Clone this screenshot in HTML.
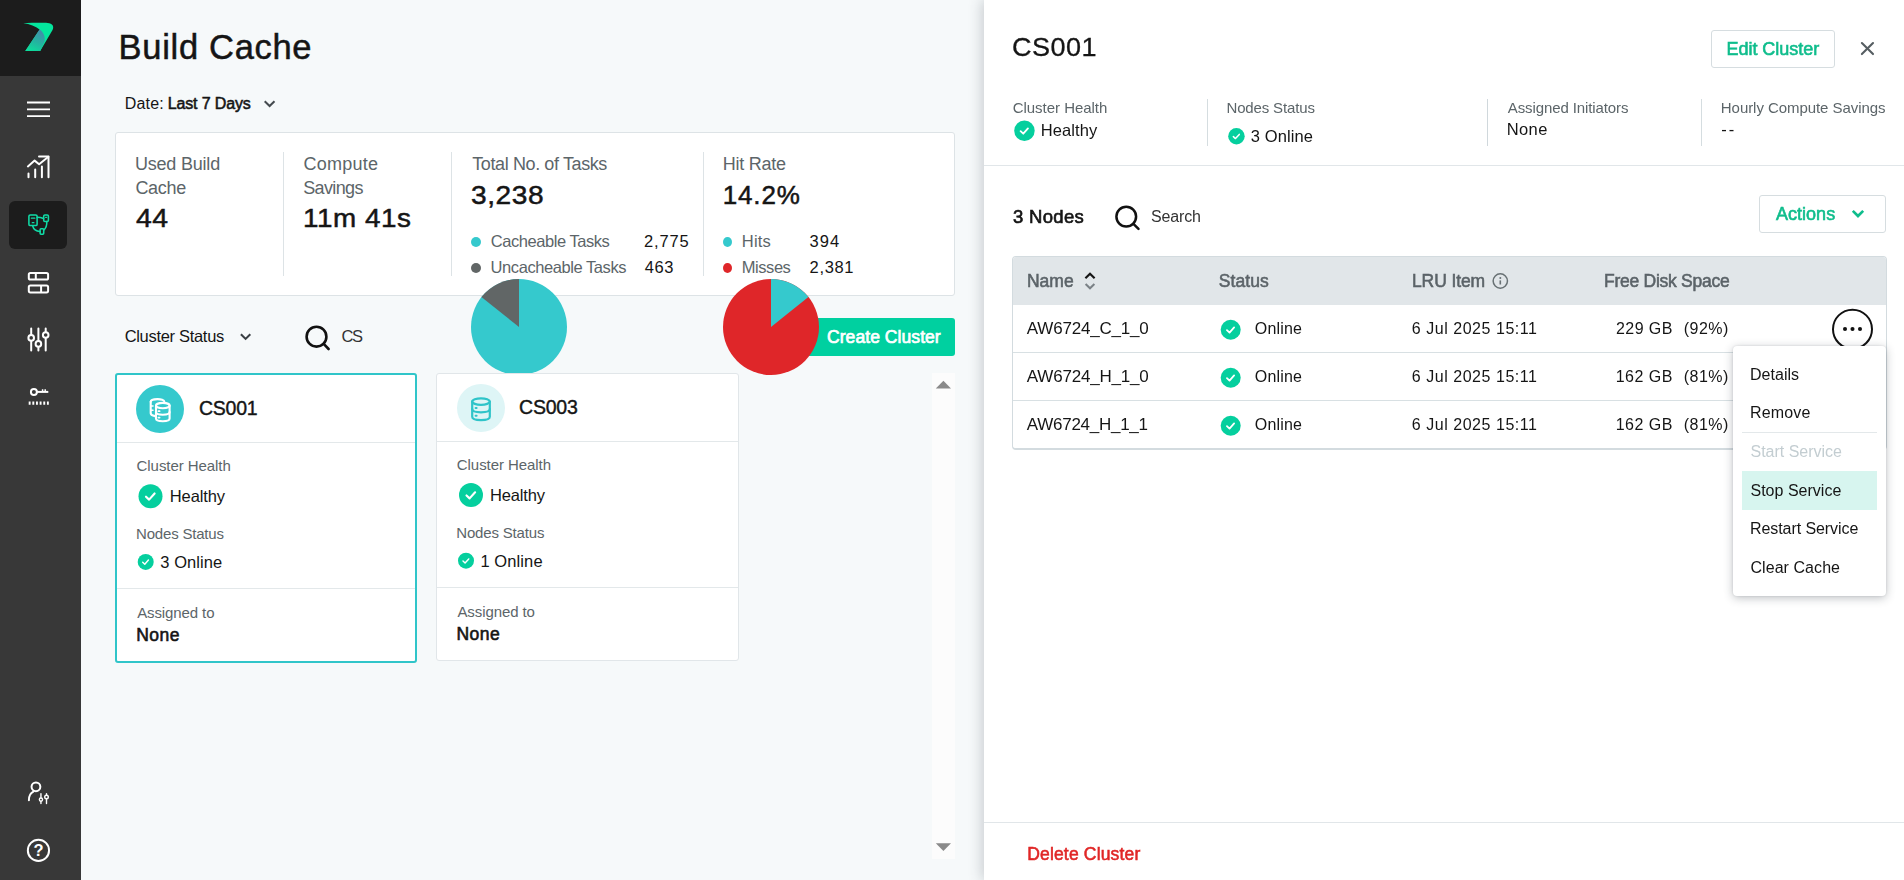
<!DOCTYPE html>
<html lang="en">
<head>
<meta charset="utf-8">
<title>Build Cache</title>
<style>
*{box-sizing:border-box;margin:0;padding:0}
html,body{width:1904px;height:880px;overflow:hidden}
body{position:relative;background:#f6f9fa;font-family:"Liberation Sans",sans-serif;color:#151515;font-size:16px}
.a{position:absolute}
.t{position:absolute;white-space:nowrap;line-height:1}
.g{color:#5c6569}
.b{font-weight:bold}
svg{position:absolute;overflow:visible}
/* sidebar */
#side{left:0;top:0;width:81px;height:880px;background:#383838}
#logo{left:0;top:0;width:81px;height:76px;background:#1c1c1c}
#active{left:9px;top:201px;width:58px;height:48px;background:#1c1c1c;border-radius:6px}
/* stats card */
#stats{left:115px;top:132px;width:840px;height:164px;background:#fff;border:1px solid #dde3e6;border-radius:3px}
.vsep{position:absolute;width:1px;background:#dde3e6}
.dot{position:absolute;width:10px;height:10px;border-radius:50%}
/* cards */
.card{position:absolute;background:#fff;border:1px solid #e1e6e9;border-radius:3px}
.hl{position:absolute;height:1px;background:#e3e8ea}
/* panel */
#panel{left:984px;top:0;width:920px;height:880px;background:#fff;box-shadow:-2px 0 13px rgba(50,60,70,.24)}
.btn{position:absolute;border:1px solid #d6dde0;border-radius:3px;background:#fff}
.gr{color:#0fbd8c}
</style>
</head>
<body>

<!-- ============ SIDEBAR ============ -->
<div id="side" class="a"></div>
<div id="logo" class="a"></div>
<div id="active" class="a"></div>

<svg style="left:0;top:0" width="81" height="880" viewBox="0 0 81 880" fill="none">
<defs><linearGradient id="lg" x1="0.7" y1="0" x2="0.3" y2="1"><stop offset="0" stop-color="#4689ab"/><stop offset="0.55" stop-color="#24b3a0"/><stop offset="1" stop-color="#0ddc9b"/></linearGradient></defs>
<!-- logo -->
<path d="M23.2 23.2 C31 22.8 42 22.7 47.6 22.9 C52.6 23.1 54.5 26.6 52.4 30.2 L40.2 50.9 L25.3 50.9 L39.6 29.4 C35.5 26 30 24.1 23.2 23.2Z" fill="#04e69d"/>
<path d="M39.6 29.4 C43.3 32.2 45.6 36.4 44.5 41.6 L40.2 50.9 L25.3 50.9Z" fill="url(#lg)"/>
<!-- hamburger -->
<path d="M27 102.5H50M27 109.3H50M27 116.2H50" stroke="#fff" stroke-width="1.8"/>
<!-- chart -->
<g stroke="#fff" stroke-width="2" stroke-linecap="round" stroke-linejoin="round">
<path d="M27.9 166.4L34.6 160.6L39.1 164.2L48.4 156.8"/>
<path d="M39 156.5H48.5V177.2"/>
<path d="M28.5 173.6V177.2M35.2 169.6V177.2M41.9 166.6V177.2"/>
</g>
<!-- build cache (active) -->
<g stroke="#10dba6" stroke-width="1.55" stroke-linejoin="round" stroke-linecap="round">
<rect x="28.9" y="214.9" width="8.2" height="10.7" rx="1.4"/>
<path d="M31.4 218.2H34.8M32.3 222.7H33.9" stroke-width="1.3"/>
<rect x="43.7" y="214.9" width="4.7" height="6.6" rx="1.2"/>
<path d="M45.6 217.3H46.6" stroke-width="1.3"/>
<rect x="40.1" y="228.8" width="3.6" height="5.4" rx="0.9"/>
<path d="M37.1 217.2C39.4 217.2 41.4 217.6 43.6 218.5"/>
<path d="M46.8 221.6C47 225.4 46 228 43.9 229.9"/>
<path d="M32.6 225.7C33.5 229.2 36.4 231.3 40 231.6"/>
</g>
<!-- layout -->
<g stroke="#fff" stroke-width="2">
<rect x="28.8" y="273" width="19.3" height="6.5" rx="1.6"/>
<path d="M35.8 273V279.5"/>
<rect x="28.8" y="285.5" width="19.3" height="6.9" rx="1.6"/>
<path d="M41.1 285.5V292.4"/>
</g>
<!-- sliders -->
<g stroke="#fff" stroke-width="2" stroke-linecap="round">
<path d="M31.2 328.6V334.8M31.2 341V350.6"/>
<circle cx="31.2" cy="337.9" r="2.8"/>
<path d="M38.4 328.6V340.8M38.4 347V350.6"/>
<circle cx="38.4" cy="343.9" r="2.8"/>
<path d="M45.7 328.6V331.9M45.7 338.1V350.6"/>
<circle cx="45.7" cy="335" r="2.8"/>
</g>
<!-- key -->
<g stroke="#fff" stroke-width="2">
<circle cx="33.9" cy="391.9" r="3"/>
<path d="M36.9 391.9H48.3"/>
<path d="M42.6 391.9V389.2M45.2 391.9V389.2" stroke-width="1.5"/>
<path d="M28.7 403.1H48.8" stroke-width="3.4" stroke-dasharray="1.9 1.75"/>
</g>
<!-- user settings -->
<g stroke="#fff" stroke-width="2" stroke-linecap="round">
<circle cx="35.95" cy="786.8" r="4.4"/>
<path d="M33.4 791.6C30.4 793 28.9 796.2 28.9 800.2"/>
<g stroke-width="1.4">
<path d="M40.95 793.6V797.8M40.95 801.4V803.6"/>
<circle cx="40.95" cy="799.6" r="1.6"/>
<path d="M46.5 793.6V795M46.5 799V803.6"/>
<circle cx="46.5" cy="797" r="1.8"/>
</g>
</g>
<!-- help -->
<circle cx="38.45" cy="850.4" r="10.6" stroke="#fff" stroke-width="2"/>
<text x="38.45" y="856.4" text-anchor="middle" font-family="Liberation Sans, sans-serif" font-size="16.5" font-weight="bold" fill="#fff">?</text>
</svg>


<!-- ============ MAIN ============ -->
<div id="main">

<!-- date chevron -->
<svg style="left:263px;top:100px" width="14" height="9" viewBox="0 0 14 9" fill="none"><path d="M1.7 1.2L6.6 6L11.5 1.2" stroke="#454b4f" stroke-width="2"/></svg>

<!-- stats card -->
<div id="stats" class="a"></div>
<div class="vsep" style="left:283px;top:152px;height:124px"></div>
<div class="vsep" style="left:451px;top:152px;height:124px"></div>
<div class="vsep" style="left:703px;top:152px;height:124px"></div>
<div class="dot" style="left:471px;top:237px;background:#35c9cd"></div>
<div class="dot" style="left:471px;top:263px;background:#616666"></div>
<div class="dot" style="left:723px;top:237px;width:9px;background:#35c9cd"></div>
<div class="dot" style="left:723px;top:263px;width:9px;background:#df2629"></div>

<!-- filter row -->
<svg style="left:239px;top:331px" width="14" height="10" viewBox="0 0 14 10" fill="none"><path d="M1.9 3.3L6.6 7.9L11.3 3.3" stroke="#3a4044" stroke-width="2.1"/></svg>
<svg style="left:303px;top:323px" width="28" height="28" viewBox="0 0 28 28" fill="none"><circle cx="13.5" cy="13.7" r="9.9" stroke="#111" stroke-width="2.6"/><path d="M20.7 20.9L25.6 26" stroke="#111" stroke-width="2.6" stroke-linecap="round"/></svg>
<div class="a" id="create" style="left:806px;top:318px;width:149px;height:38px;background:#00d0a0;border-radius:3px"></div>

<!-- scroll area with cards -->
<div class="a" id="scroll" style="left:115px;top:373px;width:840px;height:486px;overflow:hidden">
  <div class="a" style="left:817px;top:0;width:23px;height:486px;background:#fcfcfc"></div>
</div>
<svg style="left:935px;top:380px" width="16" height="10" viewBox="0 0 16 10"><path d="M0.8 8.6L8.4 0.8L16 8.6Z" fill="#8a8a8a"/></svg>
<svg style="left:935px;top:842px" width="16" height="10" viewBox="0 0 16 10"><path d="M0.8 1.2L8.4 9L16 1.2Z" fill="#8a8a8a"/></svg>

<!-- pies -->
<svg style="left:471px;top:279px" width="96" height="94" viewBox="0 0 96 94"><circle cx="48" cy="48" r="48" fill="#35c9cd"/><path d="M48 48L48 0A48 48 0 0 0 10.4 18.1Z" fill="#616666"/></svg>
<svg style="left:723px;top:279px;z-index:2" width="96" height="96" viewBox="0 0 96 96"><circle cx="48" cy="48" r="48" fill="#df2629"/><path d="M48 48L48 0A48 48 0 0 1 85.4 17.9Z" fill="#35c9cd"/></svg>

<!-- card 1 -->
<div class="card" style="left:115px;top:373px;width:302px;height:290px;border:2px solid #30c5c9"></div>
<div class="hl" style="left:117px;top:442px;width:298px"></div>
<div class="hl" style="left:117px;top:588px;width:298px"></div>
<div class="a" style="left:136px;top:385px;width:48px;height:48px;border-radius:50%;background:#35c9cd"></div>
<!-- card 2 -->
<div class="card" style="left:436px;top:373px;width:303px;height:288px"></div>
<div class="hl" style="left:437px;top:440.5px;width:301px"></div>
<div class="hl" style="left:437px;top:586.5px;width:301px"></div>
<div class="a" style="left:457px;top:384px;width:48px;height:48px;border-radius:50%;background:#def5f6"></div>

<svg style="left:0;top:0" width="1904" height="880" viewBox="0 0 1904 880" fill="none">
<defs>
<symbol id="ck" viewBox="-12 -12 24 24" overflow="visible"><circle r="12" fill="#05cf9e"/><path d="M-4.5 0.5L-1.4 3.4L4.1 -2.7" stroke="#fff" stroke-width="2.15" fill="none" stroke-linecap="round" stroke-linejoin="round"/></symbol>
</defs>
<!-- card1 icon: stacked db, white -->
<g stroke="#fff" stroke-width="2.1" stroke-linecap="round">
<path d="M150.7 401.8V413.2C150.7 414.6 152.4 415.6 155 416.1"/>
<path d="M150.7 401.8C150.7 398.3 164.3 398.3 164.3 401.6"/>
<path d="M151 406H153M151 410.3H153" stroke-width="1.6"/>
<ellipse cx="162.8" cy="405.6" rx="6.8" ry="2.7"/>
<path d="M156 405.6V418.6C156 422.2 169.6 422.2 169.6 418.6V405.6"/>
<path d="M156 412C156 415.6 169.6 415.6 169.6 412"/>
<path d="M158.4 411.2H159.6M158.4 417.6H159.6" stroke-width="1.7"/>
</g>
<!-- card2 icon: db teal -->
<g stroke="#2fc4c9" stroke-width="2.2" stroke-linecap="round">
<ellipse cx="481" cy="401.6" rx="8.8" ry="3.2"/>
<path d="M472.2 401.6V416.8C472.2 421.2 489.8 421.2 489.8 416.8V401.6"/>
<path d="M472.2 409C472.2 413.4 489.8 413.4 489.8 409"/>
<path d="M475.6 408H476.6M475.6 415.8H476.6" stroke-width="2"/>
</g>
<!-- checks -->
<use href="#ck" x="138.5" y="484.2" width="24" height="24"/>
<use href="#ck" x="137.7" y="553.9" width="16" height="16"/>
<use href="#ck" x="459" y="483" width="24" height="24"/>
<use href="#ck" x="458" y="552.7" width="16" height="16"/>
</svg>


</div>

<!-- ============ PANEL ============ -->
<div id="panel" class="a"></div>

<div class="btn" style="left:1711px;top:30px;width:124px;height:38px"></div>
<svg style="left:1860px;top:41px" width="15" height="15" viewBox="0 0 15 15" fill="none"><path d="M1.9 2L13 13.1M13 2L1.9 13.1" stroke="#565e62" stroke-width="2.1" stroke-linecap="round"/></svg>
<div class="vsep" style="left:1207px;top:99px;height:47px;background:#d5dde0"></div>
<div class="vsep" style="left:1486.5px;top:99px;height:47px;width:1.5px;background:#d0d8dc"></div>
<div class="vsep" style="left:1701px;top:99px;height:47px;background:#d5dde0"></div>
<div class="hl" style="left:984px;top:164.5px;width:920px;background:#e1e6e9"></div>
<svg style="left:1113px;top:204px" width="28" height="28" viewBox="0 0 28 28" fill="none"><circle cx="13.25" cy="12.6" r="9.85" stroke="#111" stroke-width="2.5"/><path d="M20.4 19.9L25.5 24.9" stroke="#111" stroke-width="2.5" stroke-linecap="round"/></svg>
<div class="btn" style="left:1759px;top:195px;width:127px;height:38px"></div>
<svg style="left:1850px;top:208px" width="16" height="11" viewBox="0 0 16 11" fill="none"><path d="M2.8 2.9L8 8L13.2 2.9" stroke="#0fbd8c" stroke-width="2.7"/></svg>

<!-- table -->
<div class="a" id="table" style="left:1012px;top:256px;width:875px;height:194px;border:1px solid #d3dbdf;border-bottom:2px solid #d3dbdf;border-radius:4px;background:#fff;overflow:hidden">
  <div class="a" style="left:0;top:0;width:873px;height:48px;background:#e1e6e9"></div>
  <div class="hl" style="left:0;top:95px;width:873px;background:#d8e0e3"></div>
  <div class="hl" style="left:0;top:143px;width:873px;background:#d8e0e3"></div>
</div>
<svg style="left:1084px;top:271px" width="12" height="20" viewBox="0 0 12 20" fill="none"><path d="M1.4 7.2L6 2.7L10.6 7.2" stroke="#151515" stroke-width="2.2"/><path d="M1.6 13L6 17.3L10.4 13" stroke="#7a8186" stroke-width="2"/></svg>
<svg style="left:1492px;top:273px" width="17" height="17" viewBox="0 0 17 17" fill="none"><circle cx="8.3" cy="8" r="7.15" stroke="#687174" stroke-width="1.5"/><path d="M8.3 7.4V11.5" stroke="#687174" stroke-width="1.6"/><circle cx="8.3" cy="5" r="1" fill="#687174"/></svg>

<svg style="left:0;top:0;z-index:3" width="1904" height="880" viewBox="0 0 1904 880" fill="none">
<use href="#ck" x="1014.2" y="120.5" width="20.5" height="20.5"/>
<use href="#ck" x="1228.2" y="128" width="16.5" height="16.5"/>
<use href="#ck" x="1220.7" y="319.7" width="20" height="20"/>
<use href="#ck" x="1220.7" y="367.7" width="20" height="20"/>
<use href="#ck" x="1220.7" y="415.7" width="20" height="20"/>
</svg>

<!-- more button -->
<svg style="left:1828px;top:304px" width="50" height="50" viewBox="0 0 50 50" fill="none"><circle cx="24.5" cy="25.2" r="19.5" stroke="#111" stroke-width="2"/><circle cx="17" cy="25" r="2.05" fill="#111"/><circle cx="24.5" cy="25" r="2.05" fill="#111"/><circle cx="32" cy="25" r="2.05" fill="#111"/></svg>
<!-- menu -->
<div class="a" id="menu" style="left:1733px;top:346px;width:153px;height:250px;background:#fff;border-radius:4px;box-shadow:0 2px 10px rgba(40,50,60,.30),0 0 2px rgba(40,50,60,.15);z-index:4">
  <div class="hl" style="left:9px;top:86px;width:135px;background:#e3e8ea"></div>
  <div class="a" style="left:9px;top:125px;width:135px;height:39px;background:#d7f5ef"></div>
</div>
<!-- footer -->
<div class="hl" style="left:984px;top:822px;width:920px;background:#e1e6e9"></div>

<div id="mtxt" style="position:absolute;left:0;top:0;width:984px;height:880px;z-index:6">
<span class="t" id="t0" style="left:118.60px;top:30.00px;font-size:34.5px;color:#151515;letter-spacing:0.692px;-webkit-text-stroke:0.5px #151515">Build Cache</span>
<span class="t" id="t1" style="left:124.84px;top:95.75px;font-size:16px;color:#151515;letter-spacing:0.133px">Date:</span>
<span class="t" id="t2" style="left:167.72px;top:95.75px;font-size:16px;color:#151515;letter-spacing:-0.145px;-webkit-text-stroke:0.55px #151515">Last 7 Days</span>
<span class="t" id="t3" style="left:134.97px;top:155.00px;font-size:18px;color:#5c6569;letter-spacing:-0.205px">Used Build</span>
<span class="t" id="t4" style="left:135.46px;top:179.25px;font-size:18px;color:#5c6569;letter-spacing:-0.332px">Cache</span>
<span class="t" id="t5" style="left:135.62px;top:205.00px;font-size:26px;color:#151515;letter-spacing:0.397px;-webkit-text-stroke:0.5px #151515;transform:scaleX(1.09);transform-origin:0 50%">44</span>
<span class="t" id="t6" style="left:303.46px;top:155.00px;font-size:18px;color:#5c6569;letter-spacing:0.259px">Compute</span>
<span class="t" id="t7" style="left:303.26px;top:179.25px;font-size:18px;color:#5c6569;letter-spacing:-0.637px">Savings</span>
<span class="t" id="t8" style="left:302.76px;top:205.00px;font-size:26px;color:#151515;letter-spacing:0.506px;-webkit-text-stroke:0.5px #151515;transform:scaleX(1.07);transform-origin:0 50%">11m 41s</span>
<span class="t" id="t9" style="left:472.20px;top:155.00px;font-size:18px;color:#5c6569;letter-spacing:-0.386px">Total No. of Tasks</span>
<span class="t" id="t10" style="left:471.38px;top:182.00px;font-size:26px;color:#151515;letter-spacing:0.522px;-webkit-text-stroke:0.5px #151515;transform:scaleX(1.08);transform-origin:0 50%">3,238</span>
<span class="t" id="t11" style="left:490.86px;top:232.75px;font-size:16.5px;color:#5c6569;letter-spacing:-0.460px">Cacheable Tasks</span>
<span class="t" id="t12" style="left:644.09px;top:232.75px;font-size:16.5px;color:#151515;letter-spacing:0.796px">2,775</span>
<span class="t" id="t13" style="left:490.62px;top:259.25px;font-size:16.5px;color:#5c6569;letter-spacing:-0.433px">Uncacheable Tasks</span>
<span class="t" id="t14" style="left:644.78px;top:259.25px;font-size:16.5px;color:#151515;letter-spacing:0.614px">463</span>
<span class="t" id="t15" style="left:722.77px;top:155.00px;font-size:18px;color:#5c6569;letter-spacing:-0.249px">Hit Rate</span>
<span class="t" id="t16" style="left:722.70px;top:182.00px;font-size:26px;color:#151515;letter-spacing:0.868px;-webkit-text-stroke:0.5px #151515">14.2%</span>
<span class="t" id="t17" style="left:741.82px;top:232.75px;font-size:16.5px;color:#5c6569;letter-spacing:0.213px">Hits</span>
<span class="t" id="t18" style="left:809.61px;top:232.75px;font-size:16.5px;color:#151515;letter-spacing:0.978px">394</span>
<span class="t" id="t19" style="left:741.82px;top:259.25px;font-size:16.5px;color:#5c6569;letter-spacing:-0.457px">Misses</span>
<span class="t" id="t20" style="left:809.61px;top:259.25px;font-size:16.5px;color:#151515;letter-spacing:0.647px">2,381</span>
<span class="t" id="t21" style="left:124.63px;top:328.00px;font-size:16.5px;color:#151515;letter-spacing:-0.307px">Cluster Status</span>
<span class="t" id="t22" style="left:341.38px;top:328.00px;font-size:16.5px;color:#333;letter-spacing:-1.275px">CS</span>
<span class="t" id="t23" style="left:827.00px;top:329.00px;font-size:17.5px;color:#fff;letter-spacing:0.068px;z-index:1;-webkit-text-stroke:0.7px #fff">Create Cluster</span>
<span class="t" id="t24" style="left:199.00px;top:398.50px;font-size:19.5px;color:#151515;letter-spacing:-0.233px;-webkit-text-stroke:0.4px #151515">CS001</span>
<span class="t" id="t25" style="left:136.60px;top:457.75px;font-size:15px;color:#5c6569;letter-spacing:-0.068px">Cluster Health</span>
<span class="t" id="t26" style="left:169.82px;top:487.75px;font-size:16.5px;color:#151515;letter-spacing:-0.114px">Healthy</span>
<span class="t" id="t27" style="left:136.08px;top:525.75px;font-size:15px;color:#5c6569;letter-spacing:-0.195px">Nodes Status</span>
<span class="t" id="t28" style="left:160.36px;top:553.50px;font-size:16.5px;color:#151515;letter-spacing:0.054px">3 Online</span>
<span class="t" id="t29" style="left:137.16px;top:605.00px;font-size:15px;color:#5c6569;letter-spacing:-0.102px">Assigned to</span>
<span class="t" id="t30" style="left:136.24px;top:626.50px;font-size:17.5px;color:#151515;letter-spacing:0.482px;-webkit-text-stroke:0.6px #151515">None</span>
<span class="t" id="t31" style="left:519.12px;top:397.65px;font-size:19.5px;color:#151515;letter-spacing:-0.228px;-webkit-text-stroke:0.4px #151515">CS003</span>
<span class="t" id="t32" style="left:456.84px;top:456.90px;font-size:15px;color:#5c6569;letter-spacing:-0.063px">Cluster Health</span>
<span class="t" id="t33" style="left:489.90px;top:486.90px;font-size:16.5px;color:#151515;letter-spacing:-0.121px">Healthy</span>
<span class="t" id="t34" style="left:456.27px;top:524.90px;font-size:15px;color:#5c6569;letter-spacing:-0.170px">Nodes Status</span>
<span class="t" id="t35" style="left:480.40px;top:552.65px;font-size:16.5px;color:#151515;letter-spacing:0.104px">1 Online</span>
<span class="t" id="t36" style="left:457.40px;top:604.15px;font-size:15px;color:#5c6569;letter-spacing:-0.086px">Assigned to</span>
<span class="t" id="t37" style="left:456.53px;top:625.65px;font-size:17.5px;color:#151515;letter-spacing:0.423px;-webkit-text-stroke:0.6px #151515">None</span>
</div>
<div id="txt" style="position:absolute;left:0;top:0;width:1904px;height:880px;will-change:transform;z-index:6">
<span class="t" id="t38" style="left:1012.03px;top:33.50px;font-size:26px;color:#151515;letter-spacing:0.429px;-webkit-text-stroke:0.3px #151515;transform:scaleX(1.04);transform-origin:0 50%">CS001</span>
<span class="t" id="t39" style="left:1726.44px;top:39.50px;font-size:18px;color:#0fbd8c;letter-spacing:-0.019px;-webkit-text-stroke:0.6px #0fbd8c">Edit Cluster</span>
<span class="t" id="t40" style="left:1012.72px;top:100.25px;font-size:15px;color:#5c6569;letter-spacing:-0.034px">Cluster Health</span>
<span class="t" id="t41" style="left:1040.80px;top:122.25px;font-size:16.5px;color:#151515;letter-spacing:0.068px">Healthy</span>
<span class="t" id="t42" style="left:1226.44px;top:100.25px;font-size:15px;color:#5c6569;letter-spacing:-0.143px">Nodes Status</span>
<span class="t" id="t43" style="left:1250.85px;top:128.00px;font-size:16.5px;color:#151515;letter-spacing:0.097px">3 Online</span>
<span class="t" id="t44" style="left:1507.82px;top:100.25px;font-size:15px;color:#5c6569;letter-spacing:-0.106px">Assigned Initiators</span>
<span class="t" id="t45" style="left:1506.80px;top:121.00px;font-size:16.5px;color:#151515;letter-spacing:0.357px">None</span>
<span class="t" id="t46" style="left:1720.85px;top:100.25px;font-size:15px;color:#5c6569;letter-spacing:-0.061px">Hourly Compute Savings</span>
<span class="t" id="t47" style="left:1721.33px;top:121.00px;font-size:16.5px;color:#151515;letter-spacing:1.955px">--</span>
<span class="t" id="t48" style="left:1012.89px;top:208.00px;font-size:18.5px;color:#151515;letter-spacing:0.336px;-webkit-text-stroke:0.65px #151515">3 Nodes</span>
<span class="t" id="t49" style="left:1151.00px;top:209.00px;font-size:16px;color:#333;letter-spacing:-0.141px">Search</span>
<span class="t" id="t50" style="left:1776.00px;top:204.50px;font-size:18px;color:#0fbd8c;letter-spacing:0.018px;-webkit-text-stroke:0.6px #0fbd8c">Actions</span>
<span class="t" id="t51" style="left:1027.00px;top:273.00px;font-size:17.5px;color:#5b6368;letter-spacing:-0.023px;-webkit-text-stroke:0.55px #5b6368">Name</span>
<span class="t" id="t52" style="left:1218.78px;top:273.00px;font-size:17.5px;color:#5b6368;letter-spacing:0.085px;-webkit-text-stroke:0.55px #5b6368">Status</span>
<span class="t" id="t53" style="left:1412.00px;top:273.00px;font-size:17.5px;color:#5b6368;letter-spacing:-0.119px;-webkit-text-stroke:0.55px #5b6368">LRU Item</span>
<span class="t" id="t54" style="left:1604.00px;top:273.00px;font-size:17.5px;color:#5b6368;letter-spacing:-0.267px;-webkit-text-stroke:0.55px #5b6368">Free Disk Space</span>
<span class="t" id="t55" style="left:1026.85px;top:320.00px;font-size:17px;color:#151515;letter-spacing:-0.195px">AW6724_C_1_0</span>
<span class="t" id="t56" style="left:1254.79px;top:321.00px;font-size:16px;color:#151515;letter-spacing:0.193px">Online</span>
<span class="t" id="t57" style="left:1411.77px;top:321.00px;font-size:16px;color:#151515;letter-spacing:0.540px">6 Jul 2025 15:11</span>
<span class="t" id="t58" style="left:1616.00px;top:321.00px;font-size:16px;color:#151515;letter-spacing:0.416px">229 GB</span>
<span class="t" id="t59" style="left:1683.70px;top:321.00px;font-size:16px;color:#151515;letter-spacing:0.518px">(92%)</span>
<span class="t" id="t60" style="left:1026.85px;top:368.00px;font-size:17px;color:#151515;letter-spacing:-0.195px">AW6724_H_1_0</span>
<span class="t" id="t61" style="left:1254.79px;top:369.00px;font-size:16px;color:#151515;letter-spacing:0.193px">Online</span>
<span class="t" id="t62" style="left:1411.77px;top:369.00px;font-size:16px;color:#151515;letter-spacing:0.540px">6 Jul 2025 15:11</span>
<span class="t" id="t63" style="left:1615.67px;top:369.00px;font-size:16px;color:#151515;letter-spacing:0.482px">162 GB</span>
<span class="t" id="t64" style="left:1683.70px;top:369.00px;font-size:16px;color:#151515;letter-spacing:0.518px">(81%)</span>
<span class="t" id="t65" style="left:1026.85px;top:416.00px;font-size:17px;color:#151515;letter-spacing:-0.270px">AW6724_H_1_1</span>
<span class="t" id="t66" style="left:1254.79px;top:417.00px;font-size:16px;color:#151515;letter-spacing:0.193px">Online</span>
<span class="t" id="t67" style="left:1411.77px;top:417.00px;font-size:16px;color:#151515;letter-spacing:0.540px">6 Jul 2025 15:11</span>
<span class="t" id="t68" style="left:1615.67px;top:417.00px;font-size:16px;color:#151515;letter-spacing:0.482px">162 GB</span>
<span class="t" id="t69" style="left:1683.70px;top:417.00px;font-size:16px;color:#151515;letter-spacing:0.518px">(81%)</span>
<span class="t" id="t70" style="left:1749.96px;top:367.00px;font-size:16px;color:#151515;letter-spacing:0.038px;z-index:5">Details</span>
<span class="t" id="t71" style="left:1749.96px;top:405.40px;font-size:16px;color:#151515;letter-spacing:0.156px;z-index:5">Remove</span>
<span class="t" id="t72" style="left:1750.49px;top:444.00px;font-size:16px;color:#c3cdd1;letter-spacing:-0.007px;z-index:5">Start Service</span>
<span class="t" id="t73" style="left:1750.49px;top:482.75px;font-size:16px;color:#151515;letter-spacing:0.010px;z-index:5">Stop Service</span>
<span class="t" id="t74" style="left:1749.96px;top:521.25px;font-size:16px;color:#151515;letter-spacing:-0.073px;z-index:5">Restart Service</span>
<span class="t" id="t75" style="left:1750.44px;top:560.25px;font-size:16px;color:#151515;letter-spacing:0.062px;z-index:5">Clear Cache</span>
<span class="t" id="t76" style="left:1027.20px;top:845.60px;font-size:17.5px;color:#e02626;letter-spacing:0.170px;-webkit-text-stroke:0.55px #e02626">Delete Cluster</span>
</div>

</body>
</html>
